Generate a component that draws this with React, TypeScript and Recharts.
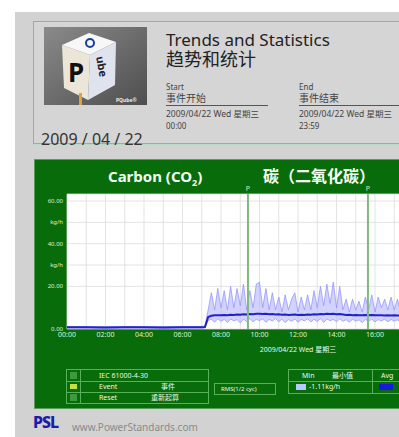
import React from 'react';
import {
  ComposedChart, Area, Line, XAxis, YAxis, CartesianGrid, ReferenceLine, Label,
} from 'recharts';

// sample times in minutes after midnight
const timeMin = [
  0, 60, 120, 180, 240, 300, 360, 420, 430,
  440, 450, 460, 470, 480, 490, 500, 510, 520, 530, 540, 550, 560, 570, 580, 590,
  600, 610, 620, 630, 640, 650, 660, 670, 680, 690, 700, 710, 720, 730, 740, 750,
  760, 770, 780, 790, 800, 810, 820, 830, 840, 850, 860, 870, 880, 890, 900, 910,
  920, 930, 940, 950, 960, 970, 980, 990, 1000, 1010, 1020, 1030, 1040, 1050, 1060,
  1070, 1080, 1090, 1100,
];

// CO2 (kg/h) average, min and max per interval
const co2Avg = [
  0.8, 0.8, 0.7, 0.8, 0.8, 0.7, 0.8, 0.8, 0.9,
  5.6, 6.2, 6.4, 6.5, 6.4, 6.6, 6.5, 6.7, 6.6, 6.8, 6.7, 6.9, 6.8, 7.0, 6.9, 7.1,
  7.2, 7.0, 7.1, 6.9, 7.0, 6.8, 6.9, 6.7, 6.8, 6.6, 6.7, 6.8, 6.6, 6.7, 6.6, 6.8,
  6.7, 6.9, 6.8, 7.0, 6.9, 7.1, 7.0, 7.1, 6.9, 7.0, 6.8, 6.6, 6.7, 6.5, 6.6, 6.4,
  6.5, 6.6, 6.5, 6.6, 6.4, 6.5, 6.4, 6.3, 6.4, 6.3, 6.4, 6.3, 6.4, 6.3, 6.4,
  6.3, 6.4, 6.3, 6.4,
];
const co2Min = [
  0.5, 0.5, 0.4, 0.5, 0.5, 0.4, 0.5, 0.5, 0.6,
  4.0, 4.6, 3.2, 4.8, 3.6, 4.5, 3.0, 4.7, 3.8, 4.4, 2.9, 4.6, 3.5, 4.9, 3.3, 4.6,
  3.9, 4.8, 3.1, 4.5, 3.7, 4.9, 3.4, 4.6, 3.0, 4.4, 3.6, 4.7, 3.2, 4.5, 3.8, 4.8,
  3.3, 4.6, 3.5, 4.9, 3.1, 4.7, 3.9, 4.5, 3.4, 4.8, 3.6, 4.4, 3.2, 4.6, 3.7, 4.3,
  3.0, 4.5, 3.6, 4.7, 3.3, 4.4, 3.8, 4.6, 3.4, 4.5, 3.7, 4.3, 3.5, 4.6, 3.9,
  4.4, 3.6, 4.5, 3.8,
];
const co2Max = [
  1.2, 1.1, 1.1, 1.2, 1.1, 1.1, 1.2, 1.2, 1.3,
  9, 17, 9, 19, 10, 18, 9, 20, 10, 19, 11, 21, 9, 18, 10, 21,
  22, 10, 19, 9, 17, 9, 15, 8, 16, 9, 14, 17, 8, 15, 9, 16,
  9, 18, 10, 20, 11, 21, 12, 22, 10, 20, 9, 14, 8, 14, 9, 13,
  8, 15, 9, 16, 8, 15, 10, 14, 9, 15, 9, 14, 8, 15, 9,
  14, 9, 15, 9,
];

const hourTicks = [
  0, 60, 120, 180, 240, 300, 360, 420, 480, 540, 600, 660, 720,
  780, 840, 900, 960, 1020, 1080, 1140, 1200, 1260, 1320, 1380, 1440,
];
const valueTicks = [0, 20, 30, 40, 50, 60];
const unitTicks = [30, 50];
const eventMarks = [564, 938];

const data = timeMin.map((t, i) => ({
  t,
  avg: co2Avg[i],
  band: [co2Min[i], co2Max[i]],
}));

const fmtHour = (m: number) => {
  const h = m / 60;
  if (h % 2 !== 0) return '';
  return `${String(h).padStart(2, '0')}:00`;
};
const fmtValue = (v: number) => (unitTicks.includes(v) ? 'kg/h' : v.toFixed(2));

const FONT = '"Noto Sans", "Noto Sans CJK SC", sans-serif';
const abs = (left: number, top: number, extra: React.CSSProperties = {}): React.CSSProperties => ({
  position: 'absolute', left, top, whiteSpace: 'nowrap', lineHeight: 1, ...extra,
});

const Cube = () => (
  <svg style={abs(10, 5)} width={103} height={78}>
    <defs>
      <linearGradient id="bgCube" x1="0" y1="0" x2="1" y2="1">
        <stop offset="0%" stopColor="#8a8a8a" />
        <stop offset="100%" stopColor="#4e4e4e" />
      </linearGradient>
    </defs>
    <rect width={103} height={78} fill="url(#bgCube)" />
    <polygon points="18,18 45,6 72,15 46,28" fill="#f7f7f7" />
    <polygon points="18,18 46,28 44,73 20,61" fill="#ece6d8" />
    <polygon points="46,28 72,15 71,58 44,73" fill="#dfe3ee" />
    <text x={24} y={55} fontSize={26} fontWeight={700} fill="#111" fontFamily={FONT}>P</text>
    <text x={52} y={30} fontSize={11} fontWeight={700} fill="#223" fontFamily={FONT}
      transform="rotate(80 52 30)">ube</text>
    <circle cx={46} cy={16} r={4} fill="none" stroke="#1a3fa0" strokeWidth={2} />
    <rect x={35} y={66} width={3} height={12} fill="#e0a040" />
    <text x={72} y={75} fontSize={5} fontWeight={700} fill="#eee" fontFamily={FONT}>PQube®</text>
  </svg>
);

const small = { fontSize: 8, color: '#444' };

const HeaderBox = () => (
  <div style={abs(33, 21, { width: 380, height: 121, border: '1px solid #a6a6a6', background: '#d5d5d5', boxShadow: '0 1px 0 #b8d8c8' })}>
    <Cube />
    <div style={abs(7, 109, { fontSize: 16, color: '#333' })}>2009 / 04 / 22</div>
    <div style={abs(132, 9, { fontSize: 17, color: '#222' })}>Trends and Statistics</div>
    <div style={abs(132, 28, { fontSize: 18, color: '#222' })}>趋势和统计</div>
    {[
      { x: 132, a: 'Start', b: '事件开始', t: '00:00' },
      { x: 265, a: 'End', b: '事件结束', t: '23:59' },
    ].map((c) => (
      <React.Fragment key={c.a}>
        <div style={abs(c.x, 61, small)}>{c.a}</div>
        <div style={abs(c.x, 71, { ...small, fontSize: 10 })}>{c.b}</div>
        <div style={abs(c.x, 83, { width: 102, borderTop: '1px solid #555' })} />
        <div style={abs(c.x, 88, { ...small, fontSize: 8.5 })}>2009/04/22 Wed 星期三</div>
        <div style={abs(c.x, 100, { ...small, fontSize: 8 })}>{c.t}</div>
      </React.Fragment>
    ))}
  </div>
);

const LINE = '1px solid #58b058';
const legendText = { fontSize: 7, color: '#e8f8e8' };

const LegendTables = () => (
  <>
    <div style={abs(31, 209, { width: 141, height: 33, border: LINE })}>
      {[0, 1, 2].map((r) => (
        <div key={r} style={abs(0, r * 11, { width: 141, height: 11, borderTop: r ? LINE : 'none' })} />
      ))}
      <div style={abs(13, 0, { height: 33, borderLeft: LINE })} />
      <div style={abs(3, 2, { width: 7, height: 7, background: '#3e9a3e' })} />
      <div style={abs(3, 14, { width: 7, height: 5, background: '#c8e040' })} />
      <div style={abs(3, 24, { width: 7, height: 7, background: '#3e9a3e' })} />
      <div style={abs(32, 2, legendText)}>IEC 61000-4-30</div>
      <div style={abs(32, 13, legendText)}>Event</div>
      <div style={abs(94, 13, legendText)}>事件</div>
      <div style={abs(32, 24, legendText)}>Reset</div>
      <div style={abs(84, 24, legendText)}>重新起算</div>
    </div>
    <div style={abs(179, 223, { width: 60, height: 10, border: LINE })}>
      <div style={abs(6, 2, { ...legendText, fontSize: 6 })}>RMS(1/2 cyc)</div>
    </div>
    <div style={abs(253, 209, { width: 160, height: 23, border: LINE })}>
      <div style={abs(0, 11, { width: 160, borderTop: LINE })} />
      <div style={abs(83, 0, { height: 23, borderLeft: LINE })} />
      <div style={abs(13, 2, legendText)}>Min</div>
      <div style={abs(43, 2, legendText)}>最小值</div>
      <div style={abs(92, 2, legendText)}>Avg</div>
      <div style={abs(7, 14, { width: 10, height: 6, background: '#b8c8ff' })} />
      <div style={abs(20, 13, legendText)}>-1.11kg/h</div>
      <div style={abs(90, 14, { width: 14, height: 6, background: '#1818e0' })} />
    </div>
  </>
);

const GreenPanel = () => (
  <div style={abs(34, 159, { width: 380, height: 248, background: '#086c0b', border: '1px solid #5a9a5a' })}>
    <div style={abs(73, 9, { fontSize: 15, fontWeight: 700, color: '#f4fff4' })}>
      Carbon (CO<sub style={{ fontSize: 9 }}>2</sub>)
    </div>
    <div style={abs(228, 8, { fontSize: 16, fontWeight: 700, color: '#f4fff4' })}>碳（二氧化碳）</div>
    <div style={abs(0, 0)}>
      <ComposedChart width={504} height={199} data={data}
        margin={{ top: 34, right: 10, left: 0, bottom: 0 }}>
        <CartesianGrid fill="#ffffff" stroke="#dcdcdc" strokeWidth={0.8} />
        <XAxis dataKey="t" type="number" domain={[0, 1440]} ticks={hourTicks} interval={0}
          tickFormatter={fmtHour} tickLine={false} axisLine={false} tickSize={2} tickMargin={1}
          height={30} tick={{ fill: '#d8f4d8', fontSize: 7 }}>
          <Label value="2009/04/22 Wed 星期三" position="insideBottom" offset={7}
            fill="#e8f8e8" fontSize={7} />
        </XAxis>
        <YAxis type="number" domain={[0, 63.3]} ticks={valueTicks} interval={0}
          tickFormatter={fmtValue} width={32} tickLine={false} axisLine={false}
          tickSize={2} tickMargin={2} tick={{ fill: '#d8f4d8', fontSize: 6 }} />
        <Area type="linear" dataKey="band" fill="#b4b4ff" fillOpacity={0.6}
          stroke="#8c8cff" strokeWidth={0.7} isAnimationActive={false} />
        <Line type="linear" dataKey="avg" stroke="#2222c8" strokeWidth={2}
          dot={false} isAnimationActive={false} />
        {eventMarks.map((m) => (
          <ReferenceLine key={m} x={m} stroke="#80b880" strokeWidth={2}
            label={{ value: 'P', position: 'top', offset: 3, fill: '#c8f0c8', fontSize: 7 }} />
        ))}
      </ComposedChart>
    </div>
    <LegendTables />
  </div>
);

export default function App() {
  return (
    <div style={{ position: 'absolute', left: 0, top: 0, width: 399, height: 437, overflow: 'hidden', background: '#ffffff', fontFamily: FONT }}>
      <div style={abs(15, 12, { width: 400, height: 430, background: '#d2d2d2' })} />
      <HeaderBox />
      <GreenPanel />
      <div style={abs(33, 414, { fontSize: 16, fontWeight: 800, color: '#1c1ca8', letterSpacing: -1 })}>PSL</div>
      <div style={abs(72, 422, { fontSize: 10, color: '#8a8a8a' })}>www.PowerStandards.com</div>
    </div>
  );
}
